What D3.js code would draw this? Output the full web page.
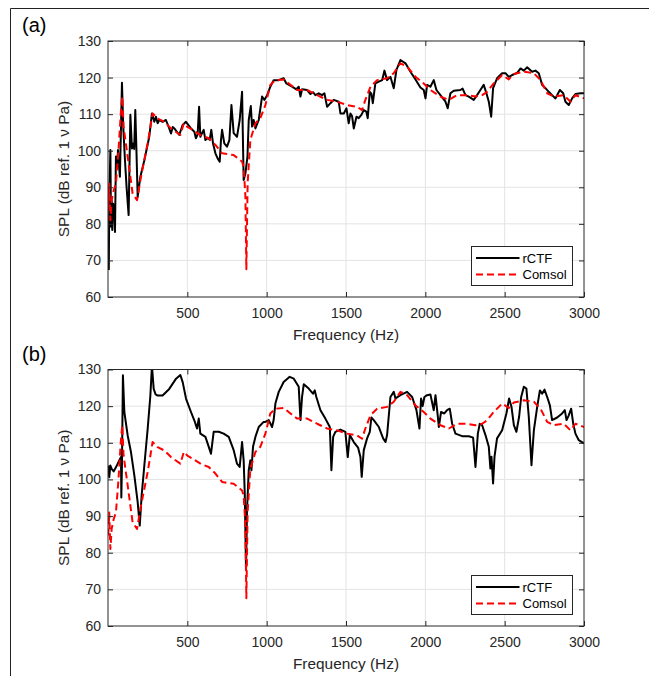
<!DOCTYPE html>
<html>
<head>
<meta charset="utf-8">
<script src="https://cdn.jsdelivr.net/npm/d3@7"></script>
<style>
  html, body { margin: 0; padding: 0; background: #fff; }
  svg { display: block; }
  text { font-family: "Liberation Sans", Arial, Helvetica, sans-serif; }
</style>
</head>
<body>
<script>
// ---------------- DATA ----------------
const panelLabels = ["(a)", "(b)"];
const seriesNames = ["rCTF", "Comsol"];
const xTicks = [500, 1000, 1500, 2000, 2500, 3000];
const yTicks = [60, 70, 80, 90, 100, 110, 120, 130];
const xLabel = "Frequency (Hz)";
const yLabel = "SPL (dB ref. 1 \u03bd Pa)";

// Panel (a) rCTF: [frequency Hz, SPL dB]
const rctfA = [
[5,67.4],[8,86.5],[15,100.2],[19,79.2],[23,86.5],[27,78.3],[31,85.6],[38,85],[44,77.8],[50,98.4],[57,95.6],[63,100.2],[69,96],[75,92.9],[82,106.6],[88,118.6],[96,106.6],[107,97.4],[117,90.1],[130,82.4],[141,109.8],[151,100.6],[160,102],[165,100.5],[172,111.1],[178,102],[187,87.4],[204,92.9],[229,97.4],[260,103.8],[277,110.2],[292,107.9],[302,109.3],[313,107.5],[323,108.4],[344,107.9],[365,108.4],[386,106.1],[397,104.7],[408,106.5],[418,106.1],[449,104.3],[470,107],[491,107.9],[523,106.1],[544,105.2],[554,103.4],[565,104.5],[574,112],[582,103.8],[593,104.8],[603,105.7],[614,102.9],[630,103.5],[641,103],[651,105.7],[662,102],[677,99.3],[691,97.9],[704,97],[712,102.9],[719,105.7],[733,102],[750,101.1],[765,102.9],[778,112.5],[792,104.8],[813,103.8],[830,108.4],[845,116.1],[855,92],[866,93.8],[879,98.4],[887,108.4],[900,112.2],[908,106.6],[918,108.4],[929,106.1],[950,108.4],[971,114.8],[986,113.9],[1003,115.2],[1023,117.5],[1044,119.3],[1076,119.3],[1107,119.8],[1124,118.4],[1160,117.5],[1187,116.8],[1202,117.5],[1213,114.8],[1223,116.8],[1255,116.6],[1276,115.5],[1292,116],[1307,115.2],[1328,115.7],[1349,115.2],[1364,115.7],[1381,112],[1402,113],[1423,113.9],[1454,113.4],[1465,110.2],[1486,110.2],[1503,111.6],[1517,107.5],[1528,110.2],[1538,109.5],[1549,106.1],[1566,109.3],[1580,108.9],[1597,109.8],[1612,111.1],[1628,110.7],[1637,108.9],[1650,116.1],[1660,115.6],[1669,113],[1685,118.4],[1707,118.9],[1728,119.3],[1742,121.9],[1759,119.3],[1780,120.2],[1801,117.1],[1818,122.1],[1843,124.8],[1875,123.9],[1906,121.6],[1938,119.5],[1969,117.3],[1990,116.6],[2001,114.3],[2011,118],[2032,117.5],[2053,119.3],[2070,116.6],[2095,115.2],[2127,113.4],[2141,111.6],[2158,115.7],[2179,116.4],[2221,116.6],[2235,117],[2253,115.2],[2274,114.8],[2305,113.9],[2326,115.2],[2347,116.6],[2368,118],[2385,115.7],[2400,113.4],[2415,109.3],[2427,117.1],[2452,119.8],[2484,121.2],[2505,121.2],[2526,120.2],[2547,120.7],[2579,121.3],[2600,122.5],[2621,121.9],[2642,122.8],[2673,121.6],[2694,121.9],[2715,121.2],[2736,118],[2757,117.1],[2778,116.1],[2799,115.2],[2820,114.3],[2848,116.6],[2869,115.7],[2883,113.4],[2904,112.5],[2925,114.3],[2946,115.5],[2978,115.7],[3000,115.7]
];

// Panel (b) rCTF: [frequency Hz, SPL dB]
const rctfB = [
[2,103.8],[8,100.6],[15,103.8],[23,102.9],[36,102.2],[50,103.3],[71,105.2],[82,106.1],[84,95.1],[88,104],[94,128.4],[103,118.4],[124,112],[145,107.4],[166,101.1],[187,93.8],[200,87.4],[212,95.6],[229,103.8],[250,113.8],[267,122.9],[277,131],[288,124.7],[300,123.2],[313,122.9],[344,122.9],[386,124.7],[429,127.5],[456,128.5],[471,126.5],[492,122],[523,118.4],[545,116],[561,113.9],[572,116.6],[582,112.5],[614,111.6],[635,108.9],[649,107],[666,113],[698,113],[729,112.5],[761,111.6],[792,108],[813,104.3],[830,103.4],[845,110.2],[855,105.2],[862,96.1],[870,75.2],[876,91.6],[887,102.5],[897,105.2],[904,102.5],[914,108.9],[929,111.6],[950,114.3],[981,115.7],[992,115.7],[1013,116.2],[1034,114.3],[1044,116.2],[1055,120.7],[1076,123.9],[1107,126.6],[1145,128],[1171,127.5],[1202,125.3],[1213,116.2],[1223,122.5],[1234,126],[1265,124.8],[1292,123.4],[1303,124.3],[1313,122.5],[1339,118.9],[1370,116.6],[1398,114.3],[1408,102.5],[1419,111.6],[1433,113],[1465,113.6],[1496,113],[1511,106.1],[1524,112.1],[1549,110.2],[1576,108.7],[1591,106.1],[1599,100.7],[1612,108],[1633,111.2],[1650,113],[1660,116.9],[1675,116.2],[1707,114.3],[1734,111.2],[1749,110.2],[1759,112.1],[1780,122.5],[1801,123.9],[1812,122.1],[1843,123],[1885,123.9],[1917,122.5],[1944,118.9],[1963,113.9],[1973,122.1],[1983,120],[1994,122.5],[2011,123],[2032,123.2],[2053,118.9],[2064,123],[2078,117.5],[2085,114.3],[2099,118.4],[2120,118],[2137,118.9],[2154,119.3],[2169,115.2],[2190,112.5],[2232,111.8],[2274,111.8],[2301,111.4],[2316,103.4],[2331,112.5],[2343,115.2],[2358,114.8],[2379,112.1],[2400,108.9],[2410,103],[2417,106.2],[2427,98.9],[2436,106.2],[2452,111.2],[2484,113.4],[2511,118],[2528,122.1],[2543,119.8],[2558,114.8],[2574,113],[2591,117.1],[2604,122.5],[2621,125.3],[2637,124.8],[2652,117.1],[2669,103.9],[2684,113.4],[2705,119.8],[2722,124.3],[2736,123.4],[2751,124.5],[2768,122.5],[2785,120.2],[2799,116.2],[2831,116.9],[2862,118],[2879,118.9],[2890,116.2],[2904,117.5],[2919,119.3],[2932,115.2],[2946,112.5],[2967,110.7],[3000,109.8]
];

// Comsol (same in both panels): [frequency Hz, SPL dB]
const comsol = [
[2,84.7],[8,91],[15,81],[23,86.5],[36,89.2],[50,91],[65,99.3],[82,111.1],[90,114.8],[98,106.6],[124,98.4],[155,88.3],[183,86.5],[208,92.9],[250,102],[281,110.2],[313,108.8],[355,107.9],[397,106.1],[456,104.3],[478,107.5],[500,106.5],[540,105.5],[586,104.2],[635,103.4],[677,101.6],[719,99.3],[792,98.8],[845,97],[855,95.6],[866,87.5],[872,67.6],[880,91.1],[897,102.9],[929,107.5],[960,108.9],[992,112.5],[1023,118],[1055,119.3],[1107,119.5],[1150,118],[1192,116.6],[1255,116.6],[1318,115.2],[1381,113.9],[1444,113.4],[1507,112.5],[1570,112],[1601,111.1],[1622,113.9],[1654,117.5],[1696,119.3],[1759,119.8],[1801,121.2],[1843,123.9],[1885,123],[1938,120.2],[1990,118.4],[2032,116.6],[2095,114.8],[2148,113.9],[2200,115.2],[2263,115.2],[2316,114.8],[2358,115.2],[2389,116.1],[2431,118.4],[2484,120.7],[2526,119.5],[2558,121],[2621,121.6],[2684,121.2],[2726,119.3],[2768,115.7],[2810,114.8],[2873,115.2],[2915,113.4],[2946,115.2],[3000,114.3]
];

// ---------------- DRAW ----------------
const W = 649, H = 676;
const svg = d3.select("body").append("svg").attr("width", W).attr("height", H);

// outer frame lines
svg.append("line").attr("x1", 10.5).attr("x2", W).attr("y1", 8.5).attr("y2", 8.5)
  .attr("stroke", "#222").attr("stroke-width", 1);
svg.append("line").attr("x1", 10.5).attr("x2", 10.5).attr("y1", 8.5).attr("y2", H)
  .attr("stroke", "#222").attr("stroke-width", 1);

const axColor = "#262626";
const fontTick = 14, fontLabel = 15.4;

const panels = [
  { label: panelLabels[0], rctf: rctfA, top: 41, bottom: 297, labY: 32, xlabY: 340 },
  { label: panelLabels[1], rctf: rctfB, top: 369.5, bottom: 626, labY: 361, xlabY: 669 }
];

const x = d3.scaleLinear().domain([0, 3000]).range([108, 584]);

panels.forEach((p, i) => {
  const y = d3.scaleLinear().domain([60, 130]).range([p.bottom, p.top]);
  const g = svg.append("g");

  g.append("rect").attr("x", x.range()[0]).attr("y", p.top)
    .attr("width", x.range()[1] - x.range()[0]).attr("height", p.bottom - p.top)
    .attr("fill", "#fff");

  // grid
  g.append("g").selectAll("line").data(xTicks.slice(0, -1)).join("line")
    .attr("x1", d => x(d)).attr("x2", d => x(d)).attr("y1", p.top).attr("y2", p.bottom)
    .attr("stroke", "#e3e3e3").attr("stroke-width", 1);
  g.append("g").selectAll("line").data(yTicks.slice(1, -1)).join("line")
    .attr("x1", x.range()[0]).attr("x2", x.range()[1]).attr("y1", d => y(d)).attr("y2", d => y(d))
    .attr("stroke", "#e3e3e3").attr("stroke-width", 1);

  const clipId = "clip" + i;
  svg.append("clipPath").attr("id", clipId).append("rect")
    .attr("x", x.range()[0]).attr("y", p.top)
    .attr("width", x.range()[1] - x.range()[0]).attr("height", p.bottom - p.top);

  const line = d3.line().x(d => x(d[0])).y(d => y(d[1]));
  const lines = g.append("g").attr("clip-path", `url(#${clipId})`);
  lines.append("path").datum(p.rctf).attr("d", line)
    .attr("fill", "none").attr("stroke", "#000").attr("stroke-width", 2)
    .attr("stroke-linejoin", "round");
  lines.append("path").datum(comsol).attr("d", line)
    .attr("fill", "none").attr("stroke", "#ff0000").attr("stroke-width", 2)
    .attr("stroke-dasharray", "7,4").attr("stroke-linejoin", "round");

  const styleAxis = sel => {
    sel.select(".domain").remove();
    sel.selectAll(".tick line").attr("stroke", axColor);
    sel.selectAll(".tick text").attr("fill", axColor).attr("font-size", fontTick)
      .attr("font-family", '"Liberation Sans", Arial, Helvetica, sans-serif');
  };
  const fmt = d3.format("d");
  g.append("g").attr("transform", `translate(0,${p.bottom})`)
    .call(d3.axisBottom(x).tickValues(xTicks).tickFormat(fmt).tickSizeInner(-5).tickSizeOuter(0).tickPadding(11))
    .call(styleAxis);
  g.append("g").attr("transform", `translate(0,${p.top})`)
    .call(d3.axisTop(x).tickValues(xTicks).tickSizeInner(-5).tickSizeOuter(0).tickFormat(""))
    .call(styleAxis);
  g.append("g").attr("transform", `translate(${x.range()[0]},0)`)
    .call(d3.axisLeft(y).tickValues(yTicks).tickFormat(fmt).tickSizeInner(-5).tickSizeOuter(0).tickPadding(7))
    .call(styleAxis);
  g.append("g").attr("transform", `translate(${x.range()[1]},0)`)
    .call(d3.axisRight(y).tickValues(yTicks).tickSizeInner(-5).tickSizeOuter(0).tickFormat(""))
    .call(styleAxis);

  g.append("rect").attr("x", x.range()[0]).attr("y", p.top)
    .attr("width", x.range()[1] - x.range()[0]).attr("height", p.bottom - p.top)
    .attr("fill", "none").attr("stroke", axColor).attr("stroke-width", 1);

  g.append("text").attr("x", (x.range()[0] + x.range()[1]) / 2).attr("y", p.xlabY)
    .attr("text-anchor", "middle").attr("font-size", fontLabel).attr("fill", axColor).text(xLabel);
  g.append("text").attr("transform", `translate(69,${(p.top + p.bottom) / 2}) rotate(-90)`)
    .attr("text-anchor", "middle").attr("font-size", fontLabel).attr("fill", axColor).text(yLabel);
  g.append("text").attr("x", 22).attr("y", p.labY).attr("font-size", 20).attr("fill", "#000").text(p.label);

  // legend
  const lx = 471.5, ly = p.bottom - 50.5, lw = 101, lh = 39;
  const lg = g.append("g");
  lg.append("rect").attr("x", lx).attr("y", ly).attr("width", lw).attr("height", lh)
    .attr("fill", "#fff").attr("stroke", axColor).attr("stroke-width", 1);
  const items = [
    { name: seriesNames[0], color: "#000", dash: null },
    { name: seriesNames[1], color: "#ff0000", dash: "7,4" }
  ];
  items.forEach((it, k) => {
    const cy = ly + 11.5 + k * 16.5;
    lg.append("line").attr("x1", lx + 4.5).attr("x2", lx + 48).attr("y1", cy).attr("y2", cy)
      .attr("stroke", it.color).attr("stroke-width", 2).attr("stroke-dasharray", it.dash);
    lg.append("text").attr("x", lx + 51).attr("y", cy + 4.5).attr("font-size", 13)
      .attr("fill", "#000").text(it.name);
  });
});
</script>
</body>
</html>
